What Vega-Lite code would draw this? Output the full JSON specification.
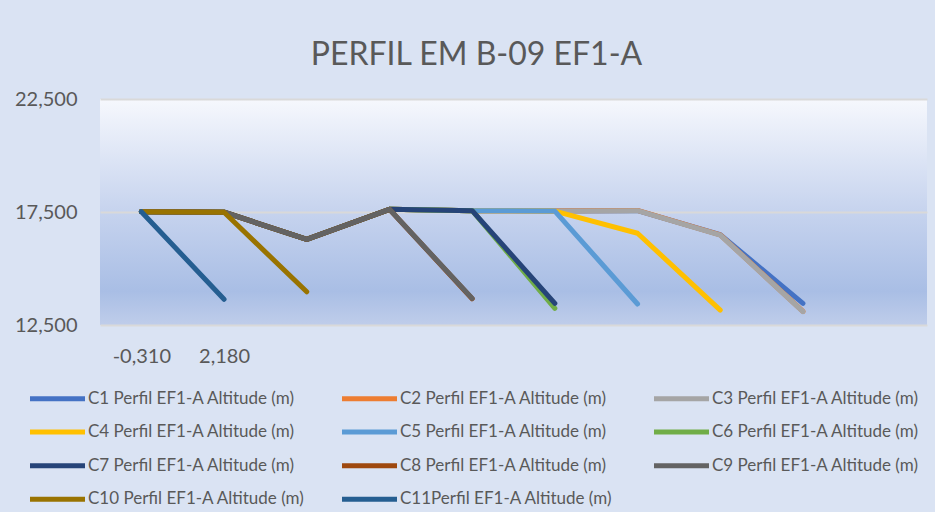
{
  "$schema": "https://vega.github.io/schema/vega-lite/v6.json",
  "width": 827,
  "height": 226,
  "autosize": {"type": "none"},
  "padding": {"left": 100, "top": 99, "right": 8, "bottom": 187},
  "background": "#dae3f3",
  "view": {
    "stroke": null,
    "fill": {
      "gradient": "linear", "x1": 0, "y1": 0, "x2": 0, "y2": 1,
      "stops": [
        {"offset": 0, "color": "#f6f8fd"},
        {"offset": 0.5, "color": "#c6d3ee"},
        {"offset": 0.85, "color": "#a9bee5"},
        {"offset": 1, "color": "#bfcdea"}
      ]
    }
  },
  "title": {
    "text": "PERFIL EM B-09 EF1-A",
    "font": "Lato",
    "fontSize": 32,
    "fontWeight": "normal",
    "color": "#595959",
    "anchor": "middle",
    "dx": -37,
    "baseline": "alphabetic",
    "offset": -8
  },
  "config": {
    "font": "Lato",
    "axis": {"labelFont": "Lato", "labelColor": "#595959"}
  },
  "data": {
    "values": [
      {"series": "C1 Perfil EF1-A Altitude (m)", "pos": 0, "alt": 17.51},
      {"series": "C1 Perfil EF1-A Altitude (m)", "pos": 1, "alt": 17.49},
      {"series": "C1 Perfil EF1-A Altitude (m)", "pos": 2, "alt": 16.29},
      {"series": "C1 Perfil EF1-A Altitude (m)", "pos": 3, "alt": 17.62},
      {"series": "C1 Perfil EF1-A Altitude (m)", "pos": 4, "alt": 17.56},
      {"series": "C1 Perfil EF1-A Altitude (m)", "pos": 5, "alt": 17.54},
      {"series": "C1 Perfil EF1-A Altitude (m)", "pos": 6, "alt": 17.56},
      {"series": "C1 Perfil EF1-A Altitude (m)", "pos": 7, "alt": 16.5},
      {"series": "C1 Perfil EF1-A Altitude (m)", "pos": 8, "alt": 13.46},
      {"series": "C2 Perfil EF1-A Altitude (m)", "pos": 0, "alt": 17.51},
      {"series": "C2 Perfil EF1-A Altitude (m)", "pos": 1, "alt": 17.49},
      {"series": "C2 Perfil EF1-A Altitude (m)", "pos": 2, "alt": 16.29},
      {"series": "C2 Perfil EF1-A Altitude (m)", "pos": 3, "alt": 17.62},
      {"series": "C2 Perfil EF1-A Altitude (m)", "pos": 4, "alt": 17.56},
      {"series": "C2 Perfil EF1-A Altitude (m)", "pos": 5, "alt": 17.55},
      {"series": "C2 Perfil EF1-A Altitude (m)", "pos": 6, "alt": 17.57},
      {"series": "C2 Perfil EF1-A Altitude (m)", "pos": 7, "alt": 16.49},
      {"series": "C2 Perfil EF1-A Altitude (m)", "pos": 8, "alt": 13.1},
      {"series": "C3 Perfil EF1-A Altitude (m)", "pos": 0, "alt": 17.51},
      {"series": "C3 Perfil EF1-A Altitude (m)", "pos": 1, "alt": 17.49},
      {"series": "C3 Perfil EF1-A Altitude (m)", "pos": 2, "alt": 16.29},
      {"series": "C3 Perfil EF1-A Altitude (m)", "pos": 3, "alt": 17.62},
      {"series": "C3 Perfil EF1-A Altitude (m)", "pos": 4, "alt": 17.56},
      {"series": "C3 Perfil EF1-A Altitude (m)", "pos": 5, "alt": 17.54},
      {"series": "C3 Perfil EF1-A Altitude (m)", "pos": 6, "alt": 17.56},
      {"series": "C3 Perfil EF1-A Altitude (m)", "pos": 7, "alt": 16.48},
      {"series": "C3 Perfil EF1-A Altitude (m)", "pos": 8, "alt": 13.09},
      {"series": "C4 Perfil EF1-A Altitude (m)", "pos": 0, "alt": 17.51},
      {"series": "C4 Perfil EF1-A Altitude (m)", "pos": 1, "alt": 17.49},
      {"series": "C4 Perfil EF1-A Altitude (m)", "pos": 2, "alt": 16.29},
      {"series": "C4 Perfil EF1-A Altitude (m)", "pos": 3, "alt": 17.62},
      {"series": "C4 Perfil EF1-A Altitude (m)", "pos": 4, "alt": 17.56},
      {"series": "C4 Perfil EF1-A Altitude (m)", "pos": 5, "alt": 17.54},
      {"series": "C4 Perfil EF1-A Altitude (m)", "pos": 6, "alt": 16.56},
      {"series": "C4 Perfil EF1-A Altitude (m)", "pos": 7, "alt": 13.16},
      {"series": "C5 Perfil EF1-A Altitude (m)", "pos": 0, "alt": 17.51},
      {"series": "C5 Perfil EF1-A Altitude (m)", "pos": 1, "alt": 17.49},
      {"series": "C5 Perfil EF1-A Altitude (m)", "pos": 2, "alt": 16.29},
      {"series": "C5 Perfil EF1-A Altitude (m)", "pos": 3, "alt": 17.62},
      {"series": "C5 Perfil EF1-A Altitude (m)", "pos": 4, "alt": 17.56},
      {"series": "C5 Perfil EF1-A Altitude (m)", "pos": 5, "alt": 17.54},
      {"series": "C5 Perfil EF1-A Altitude (m)", "pos": 6, "alt": 13.43},
      {"series": "C6 Perfil EF1-A Altitude (m)", "pos": 0, "alt": 17.51},
      {"series": "C6 Perfil EF1-A Altitude (m)", "pos": 1, "alt": 17.49},
      {"series": "C6 Perfil EF1-A Altitude (m)", "pos": 2, "alt": 16.29},
      {"series": "C6 Perfil EF1-A Altitude (m)", "pos": 3, "alt": 17.62},
      {"series": "C6 Perfil EF1-A Altitude (m)", "pos": 4, "alt": 17.56},
      {"series": "C6 Perfil EF1-A Altitude (m)", "pos": 5, "alt": 13.24},
      {"series": "C7 Perfil EF1-A Altitude (m)", "pos": 0, "alt": 17.51},
      {"series": "C7 Perfil EF1-A Altitude (m)", "pos": 1, "alt": 17.49},
      {"series": "C7 Perfil EF1-A Altitude (m)", "pos": 2, "alt": 16.29},
      {"series": "C7 Perfil EF1-A Altitude (m)", "pos": 3, "alt": 17.62},
      {"series": "C7 Perfil EF1-A Altitude (m)", "pos": 4, "alt": 17.56},
      {"series": "C7 Perfil EF1-A Altitude (m)", "pos": 5, "alt": 13.46},
      {"series": "C8 Perfil EF1-A Altitude (m)", "pos": 0, "alt": 17.51},
      {"series": "C8 Perfil EF1-A Altitude (m)", "pos": 1, "alt": 17.49},
      {"series": "C8 Perfil EF1-A Altitude (m)", "pos": 2, "alt": 16.29},
      {"series": "C8 Perfil EF1-A Altitude (m)", "pos": 3, "alt": 17.62},
      {"series": "C8 Perfil EF1-A Altitude (m)", "pos": 4, "alt": 13.66},
      {"series": "C9 Perfil EF1-A Altitude (m)", "pos": 0, "alt": 17.51},
      {"series": "C9 Perfil EF1-A Altitude (m)", "pos": 1, "alt": 17.49},
      {"series": "C9 Perfil EF1-A Altitude (m)", "pos": 2, "alt": 16.29},
      {"series": "C9 Perfil EF1-A Altitude (m)", "pos": 3, "alt": 17.62},
      {"series": "C9 Perfil EF1-A Altitude (m)", "pos": 4, "alt": 13.68},
      {"series": "C10 Perfil EF1-A Altitude (m)", "pos": 0, "alt": 17.51},
      {"series": "C10 Perfil EF1-A Altitude (m)", "pos": 1, "alt": 17.49},
      {"series": "C10 Perfil EF1-A Altitude (m)", "pos": 2, "alt": 13.97},
      {"series": "C11Perfil EF1-A Altitude (m)", "pos": 0, "alt": 17.51},
      {"series": "C11Perfil EF1-A Altitude (m)", "pos": 1, "alt": 13.64}
    ]
  },
  "mark": {"type": "line", "strokeWidth": 5, "strokeCap": "round", "strokeJoin": "round"},
  "encoding": {
    "x": {
      "field": "pos",
      "type": "ordinal",
      "scale": {"domain": [0, 1, 2, 3, 4, 5, 6, 7, 8, 9], "padding": 0.5},
      "axis": {
        "title": null,
        "labelAngle": 0,
        "labelExpr": "datum.value == 0 ? '-0,310' : datum.value == 1 ? '2,180' : ''",
        "labelFontSize": 20,
        "labelPadding": 21,
        "ticks": false,
        "domain": false,
        "grid": false
      }
    },
    "y": {
      "field": "alt",
      "type": "quantitative",
      "scale": {"domain": [12.5, 22.5], "nice": false, "zero": false},
      "axis": {
        "title": null,
        "values": [12.5, 17.5, 22.5],
        "labelExpr": "replace(format(datum.value, '.3f'), '.', ',')",
        "labelFontSize": 20,
        "labelPadding": 23,
        "ticks": false,
        "domain": false,
        "grid": true,
        "gridColor": "#d9d9d9",
        "gridWidth": 2,
        "gridOpacity": 1
      }
    },
    "color": {
      "field": "series",
      "type": "nominal",
      "sort": null,
      "scale": {
        "domain": ["C1 Perfil EF1-A Altitude (m)", "C2 Perfil EF1-A Altitude (m)", "C3 Perfil EF1-A Altitude (m)", "C4 Perfil EF1-A Altitude (m)", "C5 Perfil EF1-A Altitude (m)", "C6 Perfil EF1-A Altitude (m)", "C7 Perfil EF1-A Altitude (m)", "C8 Perfil EF1-A Altitude (m)", "C9 Perfil EF1-A Altitude (m)", "C10 Perfil EF1-A Altitude (m)", "C11Perfil EF1-A Altitude (m)"],
        "range": ["#4472c4", "#ed7d31", "#a5a5a5", "#ffc000", "#5b9bd5", "#70ad47", "#264478", "#9e480e", "#636363", "#997300", "#255e91"]
      },
      "legend": {
        "title": null,
        "orient": "none",
        "legendX": -70,
        "legendY": 287,
        "direction": "horizontal",
        "columns": 3,
        "gridAlign": "all",
        "columnPadding": 27,
        "rowPadding": 10.6,
        "symbolType": "M -1.25 0 H 4.25",
        "symbolSize": 400,
        "symbolStrokeWidth": 5,
        "symbolStrokeCap": "round",
        "labelFont": "Lato",
        "labelFontSize": 17,
        "labelColor": "#595959",
        "labelLimit": 400,
        "labelOffset": 33
      }
    }
  }
}
